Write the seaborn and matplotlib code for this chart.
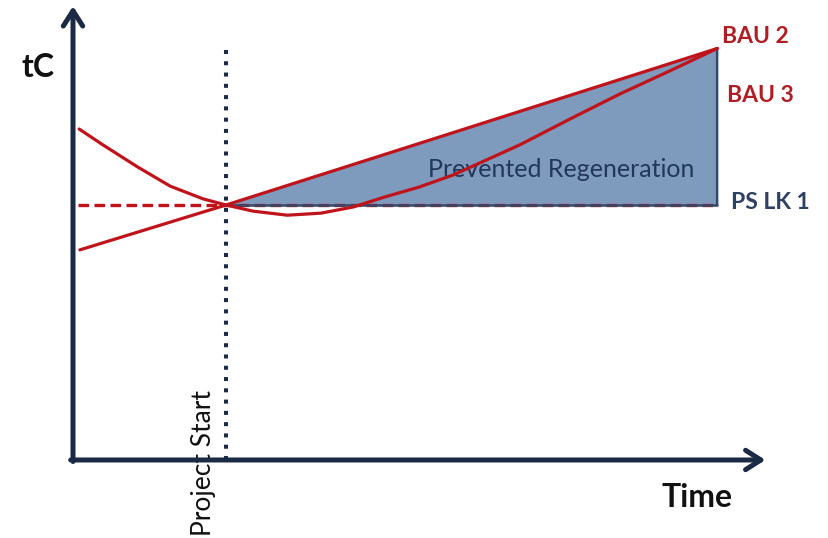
import numpy as np
import pandas as pd
import matplotlib.pyplot as plt
import seaborn as sns

# data (time units, tC units)
project_start = 2.0
t_end = 8.42
ps_level = 5.0

bau2_t = [0.09, 2.0, 8.42]
bau2_tc = [4.12, 5.0, 8.07]

bau3_t = [0.08, 0.39, 0.84, 1.27, 1.70, 2.0, 2.35, 2.80, 3.24, 3.66, 4.08, 4.52,
          4.97, 5.84, 6.50, 7.15, 7.80, 8.42]
bau3_tc = [6.49, 6.18, 5.75, 5.37, 5.12, 5.0, 4.88, 4.80, 4.84, 4.96, 5.16, 5.35,
           5.59, 6.18, 6.69, 7.18, 7.63, 8.07]

ps_t = [0.07, 2.0, 8.42]
ps_tc = [ps_level, ps_level, ps_level]

# colours
red = '#C0141C'
navy = '#1C2B45'
navy_text = '#22385A'
fill_col = '#7E9ABD'

sns.set_style('white')
plt.rcParams['font.family'] = ['Lato', 'DejaVu Sans']

fig = plt.figure(figsize=(8.29, 5.38), dpi=100)
ax = fig.add_axes([0, 0, 1, 1])
ax.set_xlim(-0.954, 9.88)
ax.set_ylim(-1.53, 9.02)
ax.axis('off')

# prevented regeneration area (between BAU 2 and PS LK 1 after project start)
fill_t = np.array([project_start, t_end])
fill_top = np.array([bau2_tc[1], bau2_tc[2]])
ax.fill_between(fill_t, [ps_level, ps_level], fill_top, color=fill_col, zorder=1)
ax.plot([t_end, t_end], [ps_level, bau2_tc[2]], color='#34496A', lw=1.6, zorder=2)

# baseline PS LK 1 (dashed red)
sns.lineplot(x=ps_t, y=ps_tc, ax=ax, color=red, lw=2.4, linestyle=(0, (3.2, 1.6)), zorder=2)
ax.plot([project_start, t_end], [ps_level, ps_level], color='#34496A', lw=1.8, zorder=3)

# BAU curves
sns.lineplot(x=bau2_t, y=bau2_tc, ax=ax, color=red, lw=2.3, zorder=4)
sns.lineplot(x=bau3_t, y=bau3_tc, ax=ax, color=red, lw=2.3, zorder=4)

# project start (dotted vertical)
ax.plot([project_start, project_start], [0, bau2_tc[2]], color=navy, lw=2.9,
        linestyle=(0, (1, 1.8)), dash_capstyle='butt', zorder=3)

# axes with open arrow heads
arrow = dict(arrowstyle='->,head_length=1.1,head_width=0.7', color=navy, lw=3.6,
             shrinkA=0, shrinkB=0)
ax.annotate('', xy=(0, 8.9), xytext=(0, -0.03), arrowprops=arrow, zorder=5)
ax.annotate('', xy=(9.05, 0), xytext=(-0.03, 0), arrowprops=arrow, zorder=5)

# texts
ax.text(-0.46, 7.69, 'tC', fontsize=23, fontweight='bold', color='#111111', ha='center', va='center')
ax.text(8.16, -0.73, 'Time', fontsize=23, fontweight='bold', color='#111111', ha='center', va='center')
ax.text(8.48, 8.31, 'BAU 2', fontsize=16.5, fontweight='bold', color='#B01E23', ha='left', va='center')
ax.text(8.55, 7.14, 'BAU 3', fontsize=16.5, fontweight='bold', color='#B01E23', ha='left', va='center')
ax.text(8.6, 5.04, 'PS LK 1', fontsize=16.5, fontweight='bold', color='#2E4160', ha='left', va='center')
ax.text(1.71, 1.37, 'Project Start', fontsize=19, color='#111111', rotation=90, ha='center', va='top')
ax.text(6.38, 5.69, 'Prevented Regeneration', fontsize=18, color=navy_text, ha='center', va='center')

fig.savefig('out.png', dpi=100)
